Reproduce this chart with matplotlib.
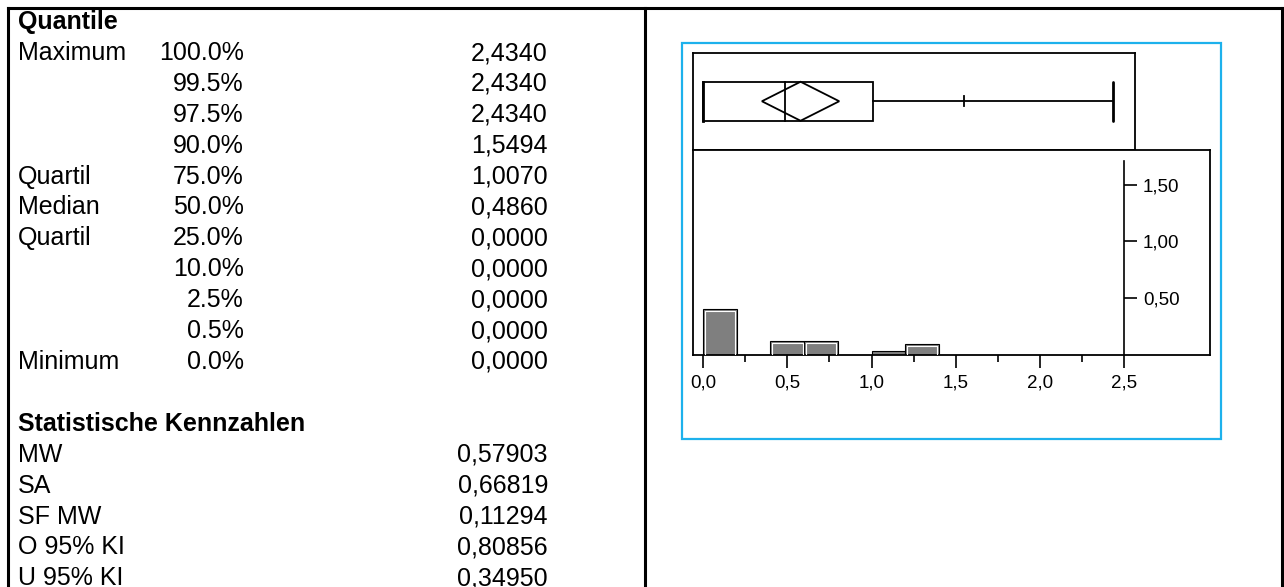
import numpy as np
import matplotlib
matplotlib.use("Agg")
import matplotlib.pyplot as plt
from matplotlib.lines import Line2D
from matplotlib.patches import Rectangle, Polygon
from matplotlib.ticker import FuncFormatter

plt.rcParams['font.family'] = ['Liberation Sans', 'DejaVu Sans']

# Quantile table
quant_labels = ["Maximum", "", "", "", "Quartil", "Median", "Quartil", "", "", "", "Minimum"]
quant_pct = ["100.0%", "99.5%", "97.5%", "90.0%", "75.0%", "50.0%", "25.0%", "10.0%", "2.5%", "0.5%", "0.0%"]
quant_values = [2.4340, 2.4340, 2.4340, 1.5494, 1.0070, 0.4860, 0.0000, 0.0000, 0.0000, 0.0000, 0.0000]

# summary statistics
stat_labels = ["MW", "SA", "SF MW", "O 95% KI", "U 95% KI"]
stat_values = [0.57903, 0.66819, 0.11294, 0.80856, 0.34950]

# histogram (relative frequencies)
bin_left = [0.0, 0.4, 0.6, 1.0, 1.2]
bin_height = [0.40, 0.115, 0.115, 0.03, 0.09]
bin_width = 0.2
y_ticks = [0.5, 1.0, 1.5]
x_ticks = [0.0, 0.5, 1.0, 1.5, 2.0, 2.5]

W, H = 1284, 587
fig = plt.figure(figsize=(W / 100, H / 100), dpi=100)


def fx(x):
    return x / W


def fy(y):
    return 1 - y / H


def px_axes(x0, y0, x1, y1):
    return fig.add_axes([fx(x0), fy(y1), fx(x1) - fx(x0), fy(y0) - fy(y1)])


def comma(v, nd):
    return f"{v:.{nd}f}".replace(".", ",")


# outer table frame
lw_out = 2.2
for xs, ys in [((8, 1281.5), (7.5, 7.5)), ((8, 8), (7.5, 590)),
               ((645, 645), (7.5, 590)), ((1281.5, 1281.5), (7.5, 590))]:
    fig.add_artist(Line2D([fx(xs[0]), fx(xs[1])], [fy(ys[0]), fy(ys[1])],
                          color="black", lw=lw_out, transform=fig.transFigure))

# left column text
fs = 18
row0, step = 53, 30.9
fig.text(fx(18), fy(22), "Quantile", fontsize=fs, fontweight="bold", va="center")
for i, (lab, pct, val) in enumerate(zip(quant_labels, quant_pct, quant_values)):
    y = fy(row0 + i * step)
    fig.text(fx(18), y, lab, fontsize=fs, va="center")
    fig.text(fx(244), y, pct, fontsize=fs, va="center", ha="right")
    fig.text(fx(548), y, comma(val, 4), fontsize=fs, va="center", ha="right")

srow = row0 + 12 * step
fig.text(fx(18), fy(srow), "Statistische Kennzahlen", fontsize=fs, fontweight="bold", va="center")
for i, (lab, val) in enumerate(zip(stat_labels, stat_values)):
    y = fy(srow + (i + 1) * step)
    fig.text(fx(18), y, lab, fontsize=fs, va="center")
    fig.text(fx(548), y, comma(val, 5), fontsize=fs, va="center", ha="right")

# blue frame around the graph
fig.add_artist(Rectangle((fx(682), fy(438.5)), fx(1221) - fx(682), fy(42.5) - fy(438.5),
                         fill=False, edgecolor="#1DB1EC", lw=1.6, transform=fig.transFigure))

x0_px, unit_px, yunit_px = 703, 168.5, 113.3
frame_lw = 1.3

# box plot panel
ax_box = px_axes(692.5, 52.5, 1135, 150)
ax_box.set_xlim((692.5 - x0_px) / unit_px, (1135 - x0_px) / unit_px)
ax_box.set_ylim(0, 1)
ax_box.set_xticks([])
ax_box.set_yticks([])
for s in ax_box.spines.values():
    s.set_linewidth(frame_lw)

q_max, q90, q75, q50, q25, q_min = quant_values[0], quant_values[3], quant_values[4], quant_values[5], quant_values[6], quant_values[10]
mean, ci_hi, ci_lo = stat_values[0], stat_values[3], stat_values[4]
b_lo, b_hi = 0.30, 0.70
lw_b = 1.3
ax_box.add_patch(Rectangle((q25, b_lo), q75 - q25, b_hi - b_lo, fill=False, edgecolor="black", lw=lw_b))
ax_box.plot([q50, q50], [b_lo, b_hi], color="black", lw=lw_b)
ax_box.add_patch(Polygon([(ci_lo, 0.5), (mean, b_hi), (ci_hi, 0.5), (mean, b_lo)],
                         closed=True, fill=False, edgecolor="black", lw=lw_b))
ax_box.plot([q75, q_max], [0.5, 0.5], color="black", lw=lw_b)
ax_box.plot([q_max, q_max], [b_lo, b_hi], color="black", lw=2.0, solid_capstyle="round")
ax_box.plot([q_min, q_min], [b_lo, b_hi], color="black", lw=2.0)
ax_box.plot([q90, q90], [0.45, 0.55], color="black", lw=lw_b)

# histogram panel
ax_h = px_axes(692.5, 150, 1210, 354.5)
xlim_h = ((692.5 - x0_px) / unit_px, (1210 - x0_px) / unit_px)
ylim_h = (0, (354.5 - 150) / yunit_px)
ax_h.set_xlim(*xlim_h)
ax_h.set_ylim(*ylim_h)
for s in ax_h.spines.values():
    s.set_linewidth(frame_lw)
ax_h.bar(bin_left, bin_height, width=bin_width, align="edge",
         color="#7F7F7F", edgecolor="black", lw=0.8, zorder=2)
# white inner outline on the left, top and right of each bar
dx, dy = 1.5 / unit_px, 1.5 / yunit_px
for b, h in zip(bin_left, bin_height):
    if h > 3 * dy:
        ax_h.plot([b + dx, b + dx, b + bin_width - dx, b + bin_width - dx],
                  [0, h - dy, h - dy, 0], color="white", lw=0.8, zorder=3)

ax_h.set_xticks(x_ticks)
ax_h.set_xticks([t + 0.25 for t in x_ticks[:-1]], minor=True)
ax_h.xaxis.set_major_formatter(FuncFormatter(lambda v, p: comma(v, 1)))
ax_h.tick_params(axis="x", which="major", direction="out", length=9.5, width=1.2,
                 labelsize=13.5, pad=5)
ax_h.tick_params(axis="x", which="minor", direction="out", length=5, width=1.2)
ax_h.set_yticks([])

# value axis drawn inside the histogram at x = 2.5
ax_y = px_axes(692.5, 150, 1210, 354.5)
ax_y.patch.set_visible(False)
ax_y.set_xlim(*xlim_h)
ax_y.set_ylim(*ylim_h)
ax_y.set_xticks([])
for k in ("top", "bottom", "left"):
    ax_y.spines[k].set_visible(False)
ax_y.spines["right"].set_position(("data", x_ticks[-1]))
ax_y.spines["right"].set_bounds(0, 1.708)
ax_y.spines["right"].set_linewidth(1.2)
ax_y.yaxis.tick_right()
ax_y.set_yticks(y_ticks)
ax_y.yaxis.set_major_formatter(FuncFormatter(lambda v, p: comma(v, 2)))
ax_y.tick_params(axis="y", direction="out", length=9.5, width=1.2, labelsize=13.5, pad=4)

fig.savefig("out.png", dpi=100)
